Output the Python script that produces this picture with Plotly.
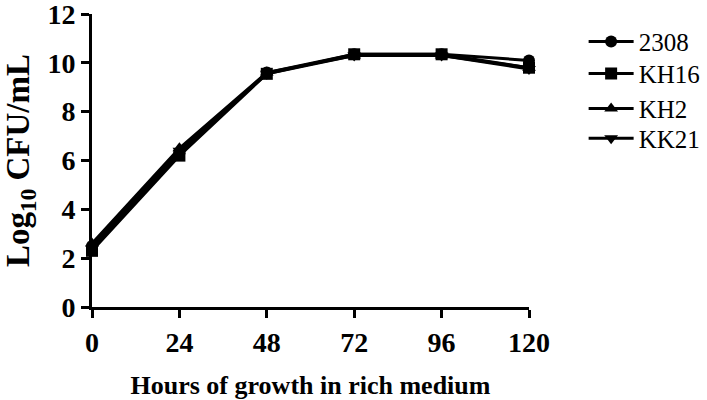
import plotly.graph_objects as go

hours = [0, 24, 48, 72, 96, 120]
series_names = ["2308", "KH16", "KH2", "KK21"]
v_2308 = [2.5, 6.3, 9.6, 10.35, 10.35, 10.1]
v_kh16 = [2.3, 6.2, 9.55, 10.35, 10.35, 9.8]
v_kh2 = [2.6, 6.5, 9.6, 10.3, 10.3, 9.8]
v_kk21 = [2.4, 6.4, 9.55, 10.3, 10.3, 9.75]
symbols = ["circle", "square", "triangle-up", "triangle-down"]
x_ticks = [0, 24, 48, 72, 96, 120]
y_ticks = [0, 2, 4, 6, 8, 10, 12]

legend_ids = ["legend2", "legend3", "legend4", "legend5"]
legend_y = [0.905, 0.796, 0.677, 0.575]

fig = go.Figure()
for name, vals, sym, lg in zip(series_names, [v_2308, v_kh16, v_kh2, v_kk21], symbols, legend_ids):
    fig.add_trace(go.Scatter(
        x=hours, y=vals, name=name, mode="lines+markers",
        line=dict(color="black", width=3),
        marker=dict(symbol=sym, size=12, color="black"),
        cliponaxis=False, legend=lg,
    ))

leg_font = dict(family="Liberation Serif", size=25, color="black")
legends = {}
for lg, ly in zip(legend_ids, legend_y):
    legends[lg] = dict(x=1.125, y=ly, xanchor="left", yanchor="middle",
                       font=leg_font, itemwidth=45, bgcolor="rgba(0,0,0,0)")

tick_font = dict(family="Liberation Serif", size=28, color="black", weight="bold")
fig.update_layout(
    template="none",
    width=707, height=400,
    margin=dict(l=92, r=178, t=14, b=93, autoexpand=False),
    plot_bgcolor="white", paper_bgcolor="white",
    font=dict(family="Liberation Serif", color="black"),
    xaxis=dict(range=[0, 120], tickvals=x_ticks, showline=True, linecolor="black",
               linewidth=3, ticks="outside", tickwidth=3, ticklen=8, tickcolor="black",
               showgrid=False, zeroline=False, tickfont=tick_font, automargin=False,
               ticklabeloverflow="allow",
               title=dict(text="Hours of growth in rich medium",
                          font=dict(family="Liberation Serif", size=26, color="black", weight="bold"),
                          standoff=21)),
    yaxis=dict(range=[0, 12], tickvals=y_ticks, showline=True, linecolor="black",
               linewidth=3, ticks="outside", tickwidth=3, ticklen=8, tickcolor="black",
               showgrid=False, zeroline=False, tickfont=tick_font, automargin=False,
               ticklabeloverflow="allow",
               title=dict(text="Log<sub>10</sub> CFU/mL",
                          font=dict(family="Liberation Serif", size=33, color="black", weight="bold"),
                          standoff=25)),
    **legends,
)
fig.write_html("out.html", config={"displayModeBar": False},
               post_script="document.body.style.margin='0';")
